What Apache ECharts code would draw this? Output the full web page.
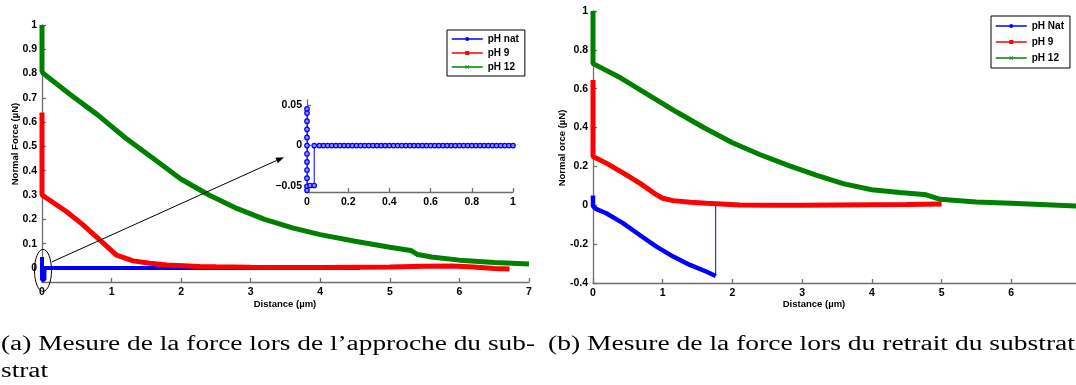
<!DOCTYPE html>
<html><head><meta charset="utf-8">
<script src="https://cdn.jsdelivr.net/npm/echarts@6/dist/echarts.min.js"></script>
<style>html,body{margin:0;padding:0;background:#fff}#c{width:1076px;height:385px}</style>
</head><body><div id="c"></div>
<script>
// ---------- data: (a) approach ----------
const blueApprX = [0,0,0,0,0,0,0,0,0,0,0,0,0.015,0.035,0.035,0.06,0.08,0.10,0.12,0.14,0.16,0.18,0.20,0.22,0.24,0.26,0.28,0.30,0.32,0.34,0.36,0.38,0.40,0.42,0.44,0.46,0.48,0.50,0.52,0.54,0.56,0.58,0.60,0.62,0.64,0.66,0.68,0.70,0.72,0.74,0.76,0.78,0.80,0.82,0.84,0.86,0.88,0.90,0.92,0.94,0.96,0.98,1.00,1.5,2.0,2.5,3.0,3.5,4.0,4.57];
const blueApprY = [0.045,0.04,0.03,0.02,0.01,0,-0.01,-0.02,-0.03,-0.04,-0.05,-0.055,-0.049,-0.049,0,0,0,0,0,0,0,0,0,0,0,0,0,0,0,0,0,0,0,0,0,0,0,0,0,0,0,0,0,0,0,0,0,0,0,0,0,0,0,0,0,0,0,0,0,0,0,0,0,0,0,0,0,0,0,0];
const redApprX = [0,0,0,0.02,0.35,0.59,0.83,1.07,1.31,1.55,1.79,2.27,2.5,3,3.5,4,4.5,5,5.5,5.9,6.2,6.5,6.72];
const redApprY = [0.64,0.45,0.30,0.293,0.232,0.177,0.115,0.053,0.029,0.019,0.012,0.006,0.005,0.003,0.002,0.002,0.003,0.004,0.007,0.008,0.004,-0.002,-0.004];
const greenApprX = [0,0,0,0,0,0.02,0.4,0.8,1.2,1.6,2.0,2.4,2.8,3.2,3.6,4.0,4.5,5.0,5.3,5.4,5.6,6.0,6.5,7.0];
const greenApprY = [1.0,0.95,0.9,0.85,0.81,0.80,0.715,0.63,0.535,0.45,0.365,0.30,0.245,0.20,0.165,0.137,0.11,0.085,0.072,0.055,0.045,0.032,0.022,0.016];

// ---------- data: (b) retract ----------
const blueRetX = [0,0,0,0.05,0.19,0.43,0.67,0.91,1.15,1.39,1.63,1.76];
const blueRetY = [0.05,0.02,-0.005,-0.02,-0.041,-0.092,-0.153,-0.213,-0.264,-0.307,-0.342,-0.364];
const blueTailX = [1.76,1.76,2.5,3.0,3.8];
const blueTailY = [-0.364,0,0,0,0];
const redRetX = [0,0,0,0,0.19,0.43,0.67,0.91,1.0,1.15,1.4,1.63,2.11,2.6,3.0,3.5,4.0,4.5,5.0];
const redRetY = [0.645,0.5,0.35,0.251,0.217,0.167,0.114,0.054,0.036,0.024,0.016,0.011,0.002,0.0,0.0,0.002,0.003,0.004,0.006];
const greenRetX = [0,0,0,0,0,0.03,0.4,0.8,1.2,1.6,2.0,2.4,2.8,3.2,3.6,4.0,4.4,4.78,4.98,5.5,6.0,6.5,7.0];
const greenRetY = [1.0,0.93,0.85,0.78,0.73,0.724,0.655,0.567,0.48,0.398,0.322,0.26,0.205,0.155,0.11,0.08,0.066,0.054,0.031,0.017,0.011,0.003,-0.005];

// ---------- ticks / labels ----------
const xTicks = [0,1,2,3,4,5,6,7];
const leftYTicks = [0,0.1,0.2,0.3,0.4,0.5,0.6,0.7,0.8,0.9,1];
const rightYTicks = [-0.4,-0.2,0,0.2,0.4,0.6,0.8,1];
const insetXTicks = [0,0.2,0.4,0.6,0.8,1];
const insetYTicks = [-0.05,0,0.05];
const legendA = ['pH nat','pH 9','pH 12'];
const legendB = ['pH Nat','pH 9','pH 12'];
const yNameA = 'Normal Force (µN)';
const yNameB = 'Normal orce (µN)';
const xName = 'Distance (µm)';
const captionA1 = '(a) Mesure de la force lors de l\u2019approche du sub-';
const captionA2 = 'strat';
const captionB = '(b) Mesure de la force lors du retrait du substrat';

const zip = (X, Y) => X.map((x, i) => [x, Y[i]]);
const BLUE = '#0000ff', RED = '#ff0000', GREEN = '#008000';
const XSYM = 'path://M0,1 L1,0 L5,4 L9,0 L10,1 L6,5 L10,9 L9,10 L5,6 L1,10 L0,9 L4,5 Z';
const FONT = '"Liberation Sans", Arial, sans-serif';
const AXC = '#6e6e6e';

function axis(extra) {
  return Object.assign({
    type: 'value',
    axisLine: { show: true, onZero: false, lineStyle: { color: AXC, width: 1.3 } },
    axisTick: { show: true, inside: true, length: 4, lineStyle: { color: AXC, width: 1.3 } },
    axisLabel: { color: '#000', fontWeight: 'bold', fontSize: 10.5, fontFamily: FONT, margin: 5 },
    splitLine: { show: false }
  }, extra);
}
function withTicks(ax, ticks, fmt) {
  ax.axisTick.customValues = ticks;
  ax.axisLabel.customValues = ticks;
  if (fmt) ax.axisLabel.formatter = fmt;
  return ax;
}
const fmtMinus = v => (v < 0 ? '-' : '') + Math.abs(v);
const fmtMinusLong = v => (v < 0 ? '\u2212' : '') + Math.abs(v);

const chart = echarts.init(document.getElementById('c'), null, { renderer: 'canvas' });

const option = {
  animation: false,
  backgroundColor: '#fff',
  grid: [
    { left: 42, top: 25, width: 487, height: 257, outerBoundsMode: 'none', containLabel: false },
    { left: 593, top: 11, width: 488, height: 272, outerBoundsMode: 'none', containLabel: false },
    { left: 307, top: 100, width: 206, height: 92, outerBoundsMode: 'none', containLabel: false }
  ],
  xAxis: [
    withTicks(axis({ gridIndex: 0, min: 0, max: 7 }), xTicks),
    withTicks(axis({ gridIndex: 1, min: 0, max: 7 }), xTicks),
    withTicks(axis({ gridIndex: 2, min: 0, max: 1 }), insetXTicks)
  ],
  yAxis: [
    withTicks(axis({ gridIndex: 0, min: -0.058, max: 1 }), leftYTicks),
    withTicks(axis({ gridIndex: 1, min: -0.4, max: 1 }), rightYTicks, fmtMinus),
    withTicks(axis({ gridIndex: 2, min: -0.057, max: 0.056 }), insetYTicks, fmtMinusLong)
  ],
  legend: [
    {
      data: legendA, orient: 'vertical', left: 447, top: 30, selectedMode: false,
      borderColor: '#000', borderWidth: 1, padding: [3, 6, 3, 4], backgroundColor: '#fff',
      itemWidth: 31, itemHeight: 5, itemGap: 2,
      lineStyle: { width: 1.5 },
      textStyle: { fontSize: 10, fontWeight: 'bold', fontFamily: FONT, color: '#000', lineHeight: 12 }
    },
    {
      data: legendB, orient: 'vertical', left: 991, top: 16, selectedMode: false,
      borderColor: '#000', borderWidth: 1, padding: [4, 6, 4, 4], backgroundColor: '#fff',
      itemWidth: 31, itemHeight: 5, itemGap: 4,
      lineStyle: { width: 1.5 },
      textStyle: { fontSize: 10, fontWeight: 'bold', fontFamily: FONT, color: '#000', lineHeight: 12 }
    }
  ],
  series: [
    { name: 'pH nat', type: 'line', xAxisIndex: 0, yAxisIndex: 0, data: zip(blueApprX, blueApprY),
      showSymbol: false, symbol: 'circle', color: BLUE, lineStyle: { color: BLUE, width: 4 } },
    { name: 'pH 9', type: 'line', xAxisIndex: 0, yAxisIndex: 0, data: zip(redApprX, redApprY),
      showSymbol: false, symbol: 'rect', color: RED, lineStyle: { color: RED, width: 5 } },
    { name: 'pH 12', type: 'line', xAxisIndex: 0, yAxisIndex: 0, data: zip(greenApprX, greenApprY),
      showSymbol: false, symbol: XSYM, color: GREEN, lineStyle: { color: GREEN, width: 5 } },

    { name: 'pH Nat', type: 'line', xAxisIndex: 1, yAxisIndex: 1, data: zip(blueRetX, blueRetY),
      showSymbol: false, symbol: 'circle', color: BLUE, lineStyle: { color: BLUE, width: 4.5 } },
    { name: 'pH Nat', type: 'line', xAxisIndex: 1, yAxisIndex: 1, data: zip(blueTailX, blueTailY),
      showSymbol: false, symbol: 'circle', color: BLUE, lineStyle: { color: BLUE, width: 1 } },
    { name: 'pH 9', type: 'line', xAxisIndex: 1, yAxisIndex: 1, data: zip(redRetX, redRetY),
      showSymbol: false, symbol: 'rect', color: RED, lineStyle: { color: RED, width: 5 } },
    { name: 'pH 12', type: 'line', xAxisIndex: 1, yAxisIndex: 1, data: zip(greenRetX, greenRetY),
      showSymbol: false, symbol: XSYM, color: GREEN, lineStyle: { color: GREEN, width: 5 } },

    { name: 'pH nat', type: 'line', xAxisIndex: 2, yAxisIndex: 2, data: zip(blueApprX, blueApprY),
      showSymbol: true, showAllSymbol: true, symbol: 'circle', symbolSize: 4.5, clip: true,
      color: BLUE, itemStyle: { color: '#8c8cff', borderColor: BLUE, borderWidth: 1.2 },
      lineStyle: { color: BLUE, width: 1 } }
  ]
};
chart.setOption(option);

// ---------- annotations & texts ----------
const mctx = document.createElement('canvas').getContext('2d');
function fit(text, size, family, width) {
  mctx.font = size + 'px ' + family;
  return width / mctx.measureText(text).width;
}
const SERIF = '"Liberation Serif"';
const capSize = 20;
const sA = fit(captionA1, capSize, SERIF, 534);
const sB = fit(captionB, capSize, SERIF, 527);

const ell = chart.convertToPixel({ gridIndex: 0 }, [0, -0.01]);
const aStart = chart.convertToPixel({ gridIndex: 0 }, [0.144, 0.025]);
const aEnd = chart.convertToPixel({ gridIndex: 2 }, [-0.112, -0.0142]);
const ang = Math.atan2(aEnd[1] - aStart[1], aEnd[0] - aStart[0]);
const hl = 8, hw = 3;
const bx = aEnd[0] - hl * Math.cos(ang), by = aEnd[1] - hl * Math.sin(ang);
const head = [
  [aEnd[0], aEnd[1]],
  [bx + hw * Math.sin(ang), by - hw * Math.cos(ang)],
  [bx - hw * Math.sin(ang), by + hw * Math.cos(ang)]
];

function capText(text, x, y, s) {
  return { type: 'text', x: x, y: y, scaleX: s, originX: 0, z: 100,
    style: { text: text, fontSize: capSize, fontFamily: SERIF, fill: '#000', verticalAlign: 'middle', align: 'left' } };
}
function nameText(text, x, y, rot) {
  return { type: 'text', x: x, y: y, rotation: rot || 0, z: 100,
    style: { text: text, fontSize: 9.5, fontWeight: 'bold', fontFamily: FONT, fill: '#000', align: 'center', verticalAlign: 'middle' } };
}

chart.setOption({
  graphic: [
    { type: 'ellipse', z: 100, shape: { cx: ell[0] + 1, cy: ell[1], rx: 8.5, ry: 21 },
      style: { fill: 'none', stroke: '#000', lineWidth: 1 } },
    { type: 'line', z: 100, shape: { x1: aStart[0], y1: aStart[1], x2: bx, y2: by },
      style: { stroke: '#000', lineWidth: 1 } },
    { type: 'polygon', z: 100, shape: { points: head }, style: { fill: '#000' } },
    nameText(yNameA, 15, 144, Math.PI / 2),
    nameText(yNameB, 562, 148, Math.PI / 2),
    nameText(xName, 285, 304),
    nameText(xName, 814, 304),
    capText(captionA1, 1, 345, sA),
    capText(captionA2, 1, 372, sA),
    capText(captionB, 548, 345, sB)
  ]
});
</script>
</body></html>
